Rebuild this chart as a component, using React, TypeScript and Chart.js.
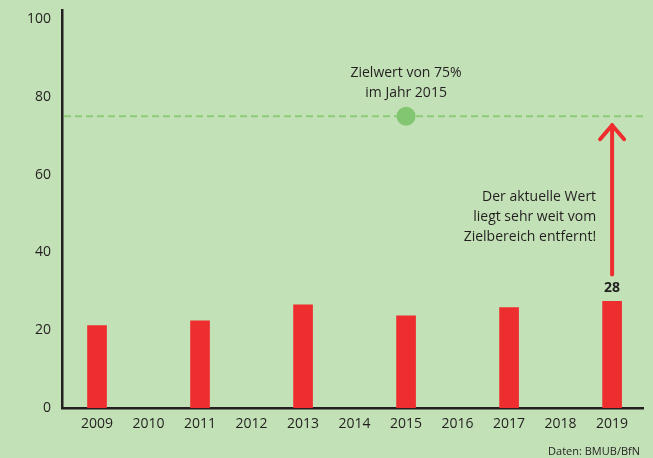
import React, { useEffect, useRef } from "react";
import { Chart, registerables } from "chart.js";

Chart.register(...registerables);

const years = [2009, 2010, 2011, 2012, 2013, 2014, 2015, 2016, 2017, 2018, 2019];
const barYears = [2009, 2011, 2013, 2015, 2017, 2019];
const barValues = [21.2, 22.4, 26.5, 23.7, 25.8, 27.4];
const yTicks = [0, 20, 40, 60, 80, 100];
const targetYear = 2015;
const targetValue = 75;
const latestLabel = "28";
const targetText = ["Zielwert von 75%", "im Jahr 2015"];
const noteText = ["Der aktuelle Wert", "liegt sehr weit vom", "Zielbereich entfernt!"];
const sourceText = "Daten: BMUB/BfN";

const FONT = "'Open Sans', 'Noto Sans', sans-serif";
const BG = "#c3e1b7";
const RED = "#ee2d2f";
const GREEN_LINE = "#8ccc78";
const GREEN_DOT = "#83c672";
const TEXT = "#231f20";

const annotationPlugin = {
  id: "annotations",
  beforeDraw(chart: any) {
    const { ctx, width, height } = chart;
    ctx.save();
    ctx.fillStyle = BG;
    ctx.fillRect(0, 0, width, height);
    ctx.restore();
  },
  beforeDatasetsDraw(chart: any) {
    const { ctx, chartArea, scales } = chart;
    const y = scales.y.getPixelForValue(targetValue);
    ctx.save();
    ctx.strokeStyle = GREEN_LINE;
    ctx.lineWidth = 2;
    ctx.setLineDash([7, 4]);
    ctx.beginPath();
    ctx.moveTo(chartArea.left + 2, y);
    ctx.lineTo(chartArea.right + 2, y);
    ctx.stroke();
    ctx.restore();
  },
  afterDatasetsDraw(chart: any) {
    const { ctx, scales } = chart;
    const xs = scales.x;
    const ys = scales.y;
    const yT = ys.getPixelForValue(targetValue);
    const lastIdx = barYears.length - 1;
    const xl = xs.getPixelForValue(barYears[lastIdx]);
    const barTop = ys.getPixelForValue(barValues[lastIdx]);

    ctx.save();
    ctx.fillStyle = TEXT;
    ctx.font = `14px ${FONT}`;
    ctx.textAlign = "center";
    ctx.textBaseline = "middle";
    const xt = xs.getPixelForValue(targetYear);
    ctx.fillText(targetText[0], xt, yT - 43);
    ctx.fillText(targetText[1], xt, yT - 23);

    ctx.textAlign = "right";
    noteText.forEach((t, i) => ctx.fillText(t, xl - 16, barTop - 104 + i * 20));

    ctx.font = `bold 14px ${FONT}`;
    ctx.textAlign = "center";
    ctx.fillText(latestLabel, xl, barTop - 13);

    ctx.strokeStyle = RED;
    ctx.lineWidth = 4;
    ctx.lineCap = "round";
    ctx.lineJoin = "round";
    const tip = yT + 9;
    ctx.beginPath();
    ctx.moveTo(xl, barTop - 27);
    ctx.lineTo(xl, tip);
    ctx.stroke();
    ctx.beginPath();
    ctx.moveTo(xl - 12, tip + 14);
    ctx.lineTo(xl, tip);
    ctx.lineTo(xl + 12, tip + 14);
    ctx.stroke();

    ctx.fillStyle = TEXT;
    ctx.font = `11px ${FONT}`;
    ctx.textAlign = "right";
    ctx.fillText(sourceText, chart.width - 13, chart.height - 6);
    ctx.restore();
  },
};

export default function App() {
  const ref = useRef<HTMLCanvasElement>(null);
  useEffect(() => {
    if (!ref.current) return;
    const chart = new Chart(ref.current, {
      type: "bar",
      data: {
        datasets: [
          {
            type: "scatter",
            data: [{ x: targetYear, y: targetValue }],
            pointRadius: 9.5,
            pointBackgroundColor: GREEN_DOT,
            pointBorderWidth: 0,
            order: 0,
          } as any,
          {
            type: "bar",
            data: barYears.map((x, i) => ({ x, y: barValues[i] })),
            backgroundColor: RED,
            barThickness: 19,
            order: 1,
          },
        ],
      },
      options: {
        animation: false,
        responsive: false,
        devicePixelRatio: 1,
        layout: { padding: { top: 10, right: 10, left: 0, bottom: 0 } },
        plugins: { legend: { display: false }, tooltip: { enabled: false } },
        scales: {
          x: {
            type: "linear",
            offset: false,
            min: 2008.32,
            max: 2019.6,
            afterBuildTicks: (s: any) => {
              s.ticks = years.map((v) => ({ value: v }));
            },
            afterFit: (s: any) => {
              s.height = 50;
              s.paddingLeft = 0;
              s.paddingRight = 0;
            },
            grid: { display: false, drawTicks: false, offset: false },
            border: { display: true, color: TEXT, width: 2.5 },
            ticks: {
              padding: 8,
              color: TEXT,
              font: { family: FONT, size: 14 },
              callback: (v: any) => String(v),
              maxRotation: 0,
              autoSkip: false,
            },
          },
          y: {
            type: "linear",
            min: 0,
            max: 102.3,
            afterBuildTicks: (s: any) => {
              s.ticks = yTicks.map((v) => ({ value: v }));
            },
            afterFit: (s: any) => {
              s.width = 62;
              s.paddingTop = 0;
              s.paddingBottom = 0;
            },
            grid: { display: false, drawTicks: false },
            border: { display: true, color: TEXT, width: 2.5 },
            ticks: {
              padding: 11,
              color: TEXT,
              font: { family: FONT, size: 14 },
            },
          },
        },
      },
      plugins: [annotationPlugin],
    });
    return () => chart.destroy();
  }, []);
  return (
    <div style={{ position: "fixed", left: 0, top: 0, width: 653, height: 458, background: BG }}>
      <canvas ref={ref} width={653} height={458} style={{ width: 653, height: 458, display: "block" }} />
    </div>
  );
}
